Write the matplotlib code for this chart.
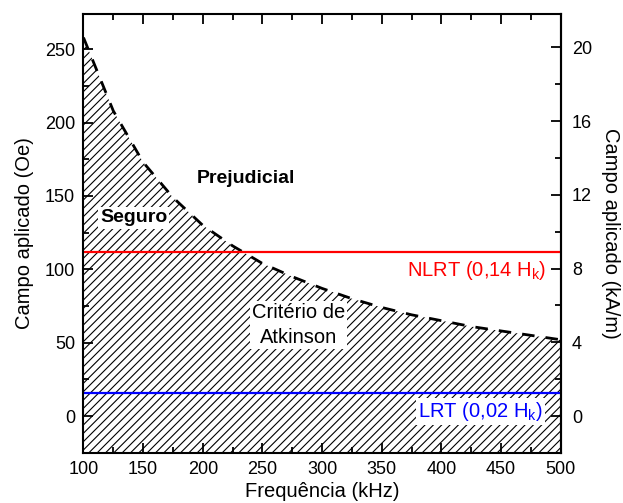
import matplotlib
matplotlib.use("Agg")
from matplotlib import pyplot as plt
from matplotlib.ticker import MultipleLocator, FixedLocator

plt.rcParams['font.family'] = ['Liberation Sans', 'DejaVu Sans']
plt.rcParams['hatch.linewidth'] = 0.8

# Atkinson criterion curve (kHz, Oe)
freq = [100, 125, 150, 175, 200, 225, 250, 275, 300, 325, 350, 375, 400, 425, 450, 475, 500]
campo = [258, 208, 173, 149, 130, 116, 104, 95, 87, 80, 74, 69, 65, 61, 58, 55, 52]

nlrt = 112   # 0,14 Hk
lrt = 16     # 0,02 Hk
oe_per_kam = 12.566
kam_ticks = [0, 4, 8, 12, 16, 20]
kam_minor = [-2, 2, 6, 10, 14, 18]

fig = plt.figure(figsize=(6.23, 5.03), dpi=100)
ax = fig.add_axes([0.134, 0.1, 0.766, 0.872])

ymin, ymax = -25, 274
ax.fill_between(freq, ymin, campo, facecolor='none', edgecolor='black', hatch='////', linewidth=0)
ax.plot(freq, campo, color='black', linestyle=(0, (4.5, 4)), linewidth=2)
ax.axhline(nlrt, color='red', linewidth=1.6)
ax.axhline(lrt, color='blue', linewidth=1.6)

ax.set_xlim(100, 500)
ax.set_ylim(ymin, ymax)
ax.xaxis.set_major_locator(MultipleLocator(50))
ax.xaxis.set_minor_locator(MultipleLocator(25))
ax.yaxis.set_major_locator(MultipleLocator(50))
ax.yaxis.set_minor_locator(MultipleLocator(25))
ax.tick_params(which='both', direction='in', top=True, right=False, labelsize=13, width=1.3)
ax.tick_params(which='major', length=7)
ax.tick_params(which='minor', length=4)
ax.tick_params(axis='x', which='major', pad=6)
ax.tick_params(axis='y', which='major', pad=6)
for s in ax.spines.values():
    s.set_linewidth(1.5)

ax.set_xlabel('Frequência (kHz)', fontsize=14.5, labelpad=3)
ax.set_ylabel('Campo aplicado (Oe)', fontsize=14.5, labelpad=8)

sec = ax.secondary_yaxis('right', functions=(lambda y: y / oe_per_kam, lambda y: y * oe_per_kam))
sec.yaxis.set_major_locator(FixedLocator(kam_ticks))
sec.yaxis.set_minor_locator(FixedLocator(kam_minor))
sec.tick_params(which='both', direction='in', labelsize=13, width=1.3)
sec.tick_params(which='major', length=7, pad=8)
sec.tick_params(which='minor', length=4)
sec.spines['right'].set_linewidth(1.5)
sec.set_ylabel('Campo aplicado (kA/m)', fontsize=14.5, rotation=270, labelpad=20)

box = dict(facecolor='white', edgecolor='none', pad=1.5)
ax.text(236, 162, 'Prejudicial', fontsize=14, fontweight='bold', ha='center', va='center')
ax.text(142, 135, 'Seguro', fontsize=14, fontweight='bold', ha='center', va='center', bbox=box)
ax.text(280, 62, 'Critério de\nAtkinson', fontsize=14.5, ha='center', va='center',
        linespacing=1.35, bbox=box)
ax.text(488, 99, 'NLRT (0,14 H$_\\mathregular{k}$)', fontsize=14.5, color='red', ha='right', va='center', bbox=box)
ax.text(485, 3, 'LRT (0,02 H$_\\mathregular{k}$)', fontsize=14.5, color='blue', ha='right', va='center', bbox=box)

fig.savefig('out.png', dpi=100)
